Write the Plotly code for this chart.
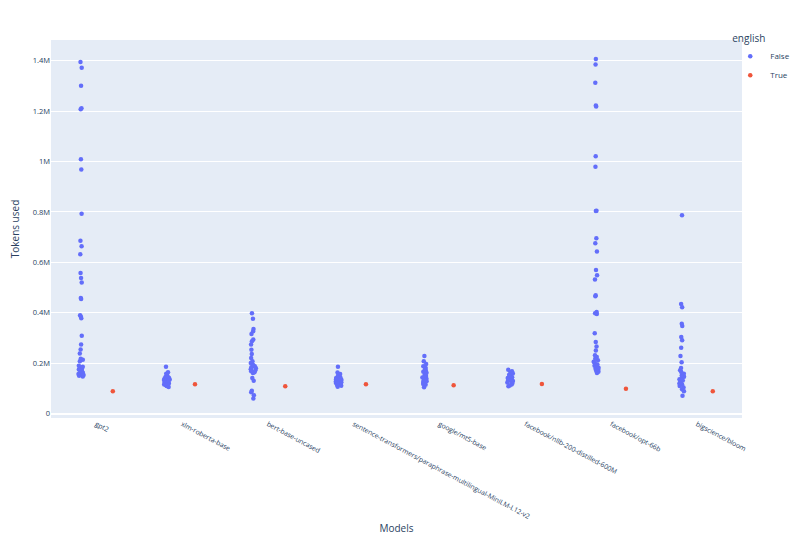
import pandas as pd
import plotly.express as px

models = ["gpt2", "xlm-roberta-base", "bert-base-uncased",
          "sentence-transformers/paraphrase-multilingual-MiniLM-L12-v2",
          "google/mt5-base", "facebook/nllb-200-distilled-600M",
          "facebook/opt-66b", "bigscience/bloom"]

# tokens used for non-English languages (english == False)
gpt2_false = [1395000, 1372000, 1301000, 1211000, 1207000, 1009000, 968000, 793000,
              686000, 664000, 632000, 558000, 538000, 520000, 459000, 455000, 390000,
              386000, 379000, 309000, 274000, 255000, 239000, 218000, 214000, 208000,
              190000, 186000, 182000, 178000, 175000, 171000, 168000, 165000, 162000,
              160000, 157000, 154000, 151000, 148000]
xlm_false = [186000, 164000, 158000, 153000, 149000, 146000, 143000, 140000, 138000,
             136000, 134000, 132000, 130000, 128000, 126000, 124000, 122000, 120000,
             118000, 116000, 113000, 110000, 106000]
bert_false = [398000, 377000, 336000, 327000, 316000, 294000, 287000, 274000, 254000,
              237000, 221000, 208000, 201000, 196000, 192000, 188000, 184000, 180000,
              176000, 172000, 168000, 164000, 161000, 142000, 131000, 91000, 85000,
              73000, 60000]
st_false = [186000, 163000, 157000, 152000, 148000, 145000, 142000, 139000, 137000,
            135000, 133000, 131000, 129000, 127000, 125000, 123000, 121000, 119000,
            117000, 114000, 111000, 107000]
mt5_false = [229000, 208000, 197000, 188000, 181000, 175000, 170000, 166000, 162000,
             158000, 154000, 150000, 147000, 144000, 141000, 138000, 135000, 132000,
             129000, 126000, 122000, 118000, 115000, 105000]
nllb_false = [174000, 168000, 163000, 159000, 155000, 151000, 148000, 145000, 142000,
              139000, 136000, 133000, 130000, 127000, 124000, 120000, 116000, 112000,
              109000]
opt_false = [1407000, 1385000, 1312000, 1222000, 1218000, 1021000, 979000, 805000,
             804000, 696000, 676000, 643000, 570000, 549000, 532000, 470000, 466000,
             403000, 398000, 395000, 319000, 284000, 267000, 251000, 232000, 225000,
             218000, 212000, 206000, 200000, 195000, 190000, 186000, 182000, 178000,
             174000, 170000, 166000, 161000]
bloom_false = [787000, 435000, 422000, 357000, 348000, 304000, 291000, 262000, 229000,
               204000, 181000, 172000, 165000, 158000, 152000, 147000, 142000, 137000,
               132000, 128000, 124000, 120000, 115000, 110000, 104000, 97000, 89000,
               71000]

# tokens used for English (english == True)
true_values = [88600, 117000, 109000, 117000, 113000, 118000, 99000, 89000]

false_lists = [gpt2_false, xlm_false, bert_false, st_false, mt5_false,
               nllb_false, opt_false, bloom_false]

rows = []
for m, fl, tv in zip(models, false_lists, true_values):
    for v in fl:
        rows.append({"Models": m, "Tokens used": v, "english": False})
    rows.append({"Models": m, "Tokens used": tv, "english": True})
df = pd.DataFrame(rows)

fig = px.strip(df, x="Models", y="Tokens used", color="english",
               category_orders={"Models": models, "english": [False, True]})
fig.update_traces(marker=dict(size=4.5), jitter=0.3)
fig.update_layout(width=800, height=540, template="plotly",
                  font=dict(size=8.5),
                  legend=dict(title_text="english", font=dict(size=8),
                              x=0.983, xanchor="left", y=1.03,
                              bgcolor="rgba(0,0,0,0)", tracegroupgap=0),
                  margin=dict(l=43, r=66, t=32, b=130, autoexpand=False))
fig.update_xaxes(tickangle=28, tickfont=dict(size=6.8), automargin=False,
                 title_standoff=2)
fig.update_yaxes(range=[-17000, 1482000], dtick=200000, tickfont=dict(size=7.5),
                 automargin=False)
fig.write_html("out.html")
